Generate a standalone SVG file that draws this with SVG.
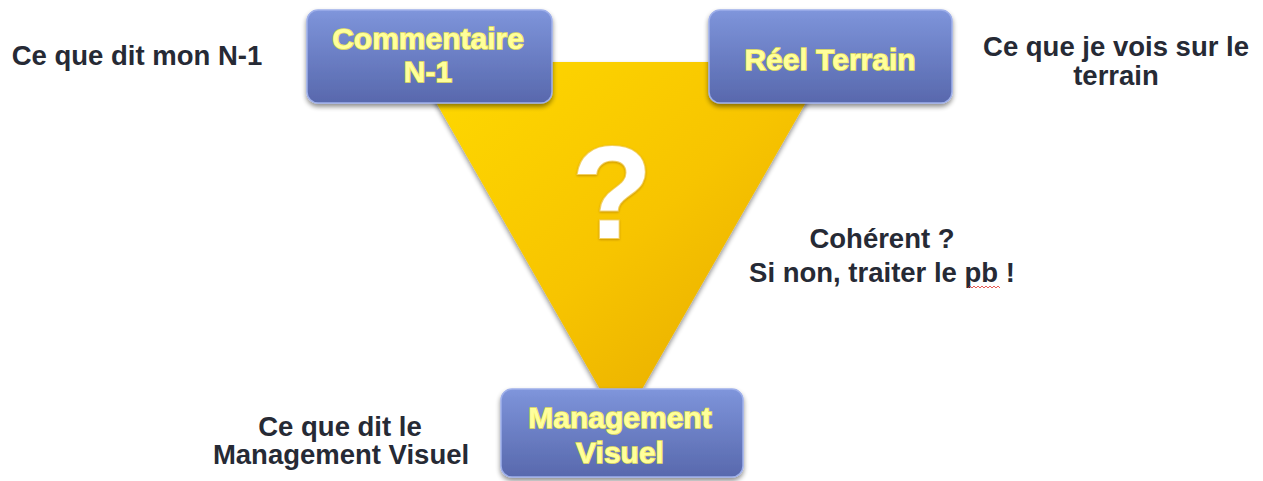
<svg xmlns="http://www.w3.org/2000/svg" width="1263" height="481" viewBox="0 0 1263 481">
<defs>
<linearGradient id="tri" x1="0" y1="0" x2="1" y2="1">
<stop offset="0" stop-color="#ffda00"/>
<stop offset="0.5" stop-color="#f7c400"/>
<stop offset="1" stop-color="#e2a400"/>
</linearGradient>
<linearGradient id="box" x1="0" y1="0" x2="0" y2="1">
<stop offset="0" stop-color="#8096dc"/>
<stop offset="0.1" stop-color="#7a90d6"/>
<stop offset="1" stop-color="#5868ad"/>
</linearGradient>
<filter id="sh" x="-10%" y="-10%" width="120%" height="130%">
<feGaussianBlur in="SourceAlpha" stdDeviation="2.5"/>
<feOffset dx="0" dy="3" result="b"/>
<feComponentTransfer><feFuncA type="linear" slope="0.45"/></feComponentTransfer>
<feMerge><feMergeNode/><feMergeNode in="SourceGraphic"/></feMerge>
</filter>
<filter id="glow" x="-10%" y="-10%" width="120%" height="120%">
<feGaussianBlur in="SourceAlpha" stdDeviation="1.2"/>
<feOffset dx="0" dy="1" result="b"/>
<feFlood flood-color="#c08a00" flood-opacity="0.8"/>
<feComposite in2="b" operator="in"/>
<feMerge><feMergeNode/><feMergeNode in="SourceGraphic"/></feMerge>
</filter>
</defs>
<style>
.bx{fill:url(#box);stroke:#9fb0ea;stroke-width:1.5;filter:url(#sh)}
.bt{font-family:"Liberation Sans",Arial,sans-serif;font-weight:bold;font-size:30px;fill:#ffff9c;stroke:#e8e25a;stroke-width:1.6;paint-order:stroke;text-anchor:middle}
.lb{font-family:"Liberation Sans",Arial,sans-serif;font-weight:bold;font-size:27.5px;fill:#262a35;text-anchor:middle}
.q{font-family:"Liberation Sans",Arial,sans-serif;font-weight:bold;font-size:132px;fill:#ffffff;stroke:#f3d060;stroke-width:2;paint-order:stroke;text-anchor:middle;filter:url(#glow)}
</style>
<g id="triangle">
<polygon points="413,62 829,62 621,426" fill="url(#tri)" filter="url(#sh)"/>
<text class="q" x="612" y="238">?</text>
</g>
<g id="connectors"></g>
<g id="node-commentaire">
<rect class="bx" x="307" y="10" width="245" height="93" rx="11"/>
<text class="bt" x="428" y="49">Commentaire</text>
<text class="bt" x="428" y="82">N-1</text>
</g>
<g id="node-reel">
<rect class="bx" x="709" y="10" width="243" height="93" rx="11"/>
<text class="bt" x="830" y="70">Réel Terrain</text>
</g>
<g id="node-management">
<rect class="bx" x="501" y="389" width="242" height="88" rx="11"/>
<text class="bt" x="620" y="428">Management</text>
<text class="bt" x="620" y="463">Visuel</text>
</g>
<g id="labels">
<text class="lb" x="137" y="65">Ce que dit mon N-1</text>
<text class="lb" x="1116" y="56">Ce que je vois sur le</text>
<text class="lb" x="1116" y="85">terrain</text>
<text class="lb" x="882" y="248">Cohérent ?</text>
<text class="lb" x="882" y="282">Si non, traiter le pb !</text>
<text class="lb" x="340" y="436">Ce que dit le</text>
<text class="lb" x="341" y="464">Management Visuel</text>
<path d="M968,288 l2,-2 l2,2 l2,-2 l2,2 l2,-2 l2,2 l2,-2 l2,2 l2,-2 l2,2 l2,-2 l2,2 l2,-2 l2,2 l2,-2 l2,2" fill="none" stroke="#e0302a" stroke-width="0.8"/>
</g>
</svg>
